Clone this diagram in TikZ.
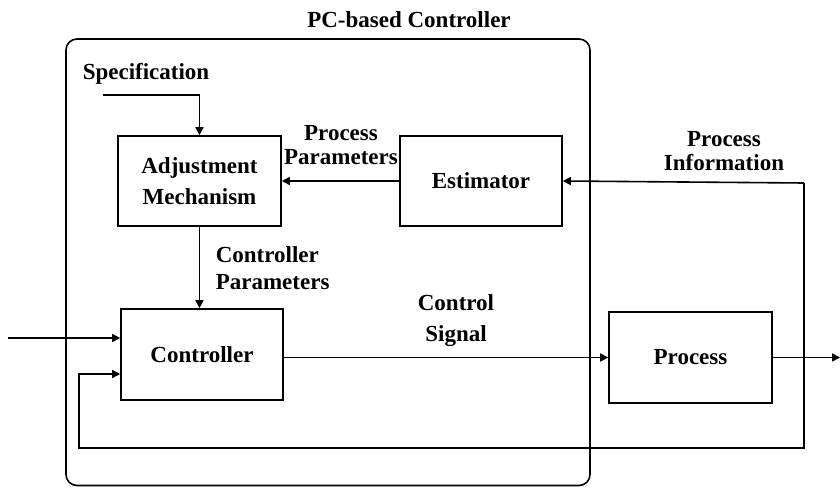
\documentclass[tikz,border=0pt]{standalone}
\usepackage{fontspec}
\setmainfont{Liberation Serif}
\usetikzlibrary{arrows.meta}
\begin{document}
\begin{tikzpicture}[x=1pt,y=-1pt,
  line width=1.6pt,
  blk/.style={draw, line width=1.6pt, inner sep=0pt, font=\bfseries\fontsize{23}{31}\selectfont, align=center},
  lbl/.style={inner sep=0pt, font=\bfseries\fontsize{23}{24}\selectfont, align=center},
  arr/.style={-{Triangle[length=8pt,width=8pt]}}]
\useasboundingbox (0,0) rectangle (840,487);
\fill[white] (0,0) rectangle (840,487);
% container
\draw[rounded corners=11pt] (66,39) rectangle (590,485.5);
\node[lbl] (title) at (409,20) {PC-based Controller};
% blocks
\node[blk, minimum width=163pt, minimum height=90pt] (adj) at (199.5,181) {Adjustment\\Mechanism};
\node[blk, minimum width=162pt, minimum height=90pt] (est) at (481,181) {Estimator};
\node[blk, minimum width=162pt, minimum height=91pt] (ctrl) at (202,354.5) {Controller};
\node[blk, minimum width=163pt, minimum height=91pt] (proc) at (690.5,357.5) {Process};
% labels
\node[lbl] (spec) at (146,74) {Specification};
\node[lbl] (pp) at (341,145) {Process\\Parameters};
\node[lbl] (pi) at (724,151) {Process\\Information};
\node[lbl, align=left, anchor=west, font=\bfseries\fontsize{23}{27}\selectfont] (cp) at (215,268.5) {Controller\\Parameters};
\node[lbl, font=\bfseries\fontsize{23}{31}\selectfont] (cs) at (456,320.5) {Control\\Signal};
% coordinates
\coordinate (specstart) at (103,95);
\coordinate (in) at (8,338);
\coordinate (tap) at (804,183);
\coordinate (fbR) at (804,448);
\coordinate (fbL) at (79,448);
\coordinate (fbU) at (79,374);
\coordinate (out) at (840,357.5);
% connectors
\draw[arr] (specstart) -| (adj.north);
\draw[arr] (est.west) -- (adj.east |- est.west);
\draw[arr] (adj.south) -- (adj.south |- ctrl.north);
\draw[arr] (in) -- (in -| ctrl.west);
\draw[arr] (ctrl.east |- proc.west) -- (proc.west);
\draw[arr] (proc.east) -- (out);
\draw[arr] (tap) -- (est.east);
\draw[arr] (tap) -- (fbR) -- (fbL) -- (fbU) -- (fbU -| ctrl.west);
\end{tikzpicture}
\end{document}
